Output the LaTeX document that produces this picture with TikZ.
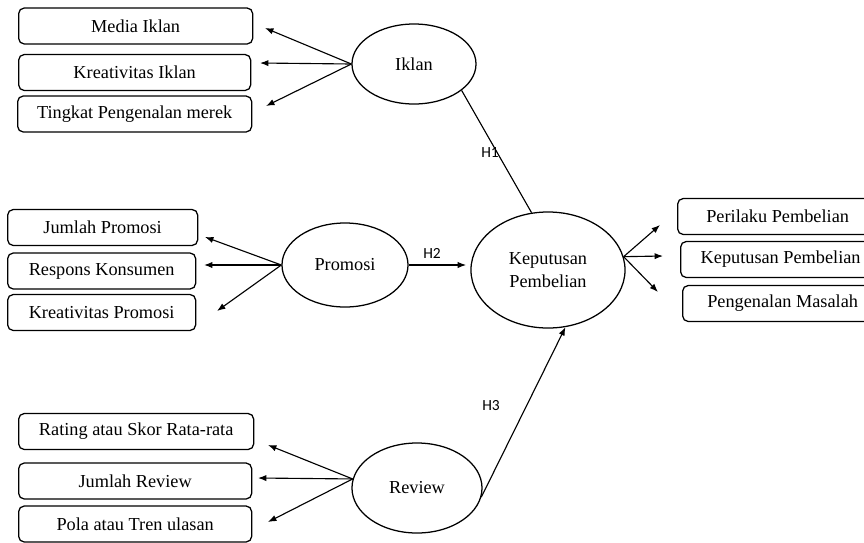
\documentclass[tikz,border=0pt]{standalone}
\usepackage{fontspec}
\setmainfont{Liberation Serif}
\newfontfamily\hfont{Carlito}
\usetikzlibrary{arrows.meta, calc, shapes.geometric}

\begin{document}
\begin{tikzpicture}[
  x=0.025cm, y=-0.025cm,
  indicator/.style={
    % The shape:
    rectangle, rounded corners=4pt,
    % The border:
    draw, line width=0.9pt,
    minimum height=0.9cm,
    % Font
    font=\fontsize{13}{15}\selectfont,
    inner sep=0pt, anchor=west
  },
  latent/.style={
    ellipse, draw, line width=0.9pt,
    font=\fontsize{13}{16}\selectfont,
    align=center, inner sep=0pt
  },
  ind/.style={-{Latex[length=6pt,width=4.5pt]}, line width=0.8pt},
  hyp/.style={font=\hfont\fontsize{11}{13}\selectfont}
  ]
  \useasboundingbox (0,0) rectangle (864,542);

  % latent variables
  \node (iklan) [latent, minimum width=3.1cm, minimum height=2cm] at (414,64) {Iklan};
  \node (promosi) [latent, minimum width=3.15cm, minimum height=2.1cm] at (345,265) {Promosi};
  \node (review) [latent, minimum width=3.25cm, minimum height=2.25cm] at (417,488) {Review};
  \node (kep) [latent, minimum width=3.85cm, minimum height=2.9cm] at (548,270) {Keputusan\\Pembelian};

  % indicators of Iklan
  \node (mi) [indicator, minimum width=5.85cm] at (18,26) {Media Iklan};
  \node (ki) [indicator, minimum width=5.8cm] at (18,72.5) {Kreativitas Iklan};
  \node (tp) [indicator, minimum width=5.85cm] at (17,114) {Tingkat Pengenalan merek};
  \foreach \b/\tx/\ty in {mi/265/28, ki/260/63, tp/266/106}
  {
    \coordinate (\b tip) at (\tx,\ty);
    \draw [ind] (iklan.west) -- (\b tip);
  }

  % indicators of Promosi
  \node (jp) [indicator, minimum width=4.75cm] at (7,227.5) {Jumlah Promosi};
  \node (rk) [indicator, minimum width=4.7cm] at (7,271) {Respons Konsumen};
  \node (kp) [indicator, minimum width=4.7cm] at (7,312.5) {Kreativitas Promosi};
  \foreach \b/\tx/\ty in {jp/205/237, rk/204/265, kp/217/311}
  {
    \coordinate (\b tip) at (\tx,\ty);
    \draw [ind] (promosi.west) -- (\b tip);
  }

  % indicators of Review
  \node (rs) [indicator, minimum width=5.875cm] at (18,431.5) {Rating atau Skor Rata-rata};
  \node (jr) [indicator, minimum width=5.825cm] at (18,481) {Jumlah Review};
  \node (pt) [indicator, minimum width=5.825cm] at (18,524) {Pola atau Tren ulasan};
  \foreach \b/\tx/\ty in {rs/268/445, jr/258/478, pt/268/522}
  {
    \coordinate (\b tip) at (\tx,\ty);
    \draw [ind] (review.172) -- (\b tip);
  }

  % indicators of Keputusan Pembelian
  \node (pp) [indicator, minimum width=5cm] at (677,216.5) {Perilaku Pembelian};
  \node (kpb) [indicator, minimum width=5cm] at (680,259.5) {Keputusan Pembelian};
  \node (pm) [indicator, minimum width=5cm] at (682,303.5) {Pengenalan Masalah};
  \foreach \b/\tx/\ty in {pp/660/225, kpb/663/256, pm/658/292}
  {
    \coordinate (\b tip) at (\tx,\ty);
    \draw [ind] (kep.10) -- (\b tip);
  }

  % hypotheses
  \draw [line width=0.8pt] (iklan.-29) -- (kep.106);
  \draw [ind, shorten >=3pt] (promosi.east) -- (promosi.east -| kep.west);
  \draw [ind] (review.-8) -- (kep.-73);
  \node (h1) [hyp] at (490,153) {H1};
  \node (h2) [hyp] at (432,253) {H2};
  \node (h3) [hyp] at (491,406) {H3};

\end{tikzpicture}
\end{document}
